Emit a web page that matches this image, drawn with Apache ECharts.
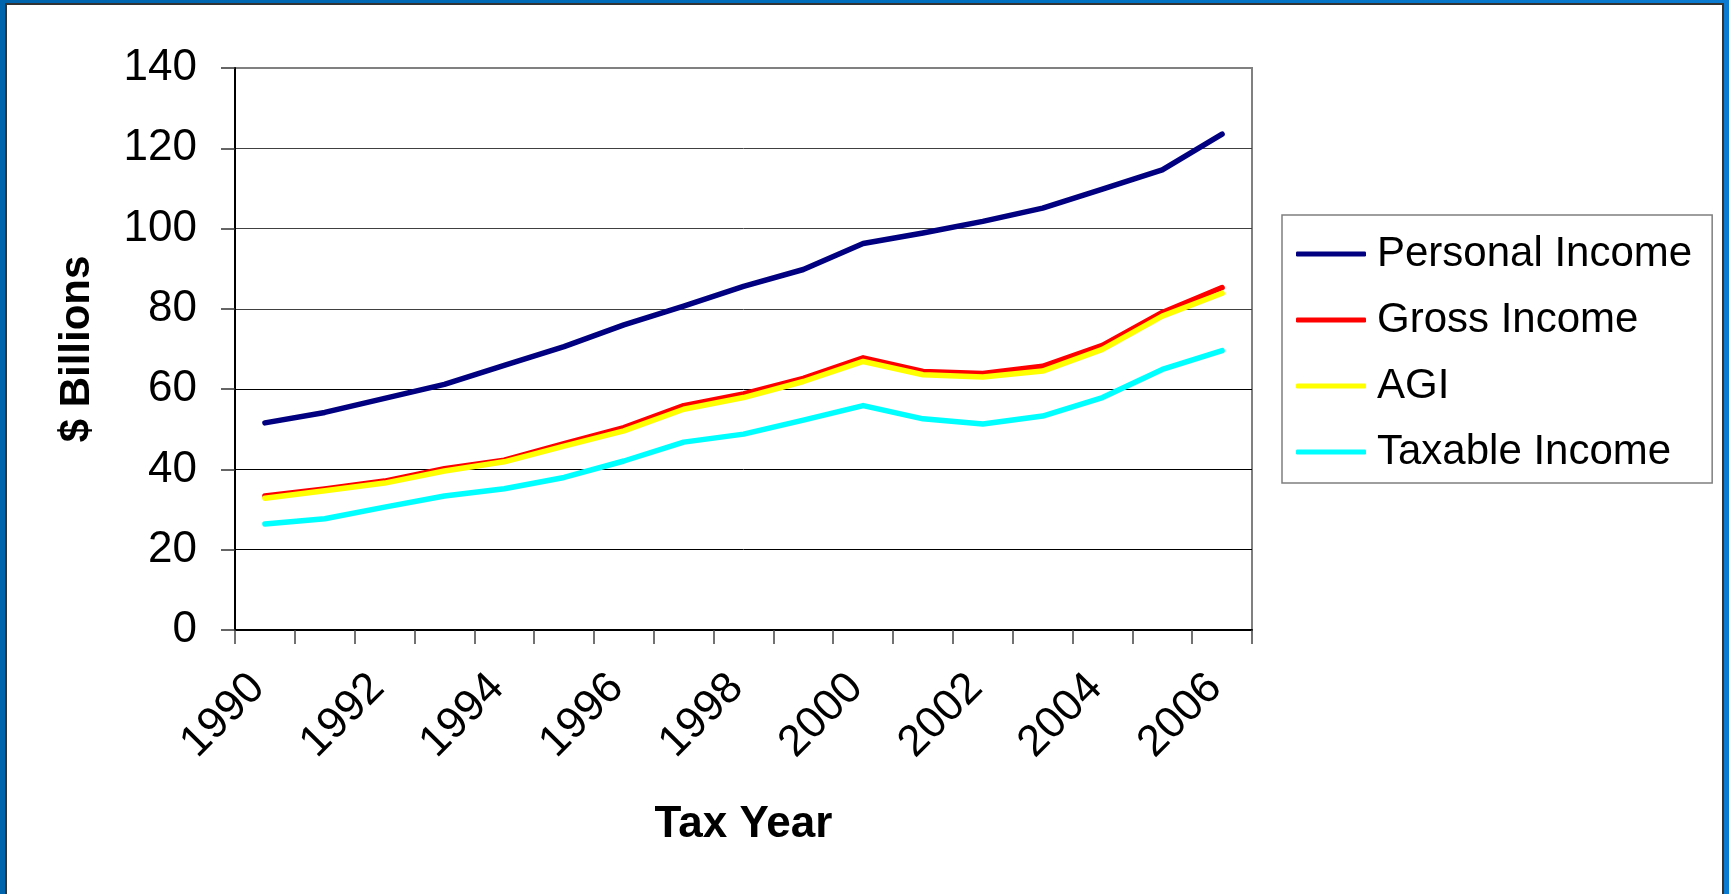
<!DOCTYPE html>
<html>
<head>
<meta charset="utf-8">
<script src="https://cdn.jsdelivr.net/npm/echarts@6/dist/echarts.min.js"></script>
<style>
  html, body { margin: 0; padding: 0; width: 1729px; height: 894px; overflow: hidden; }
  body { background: linear-gradient(90deg, #0064ad 0%, #0070c0 60%, #0a7bd0 100%); position: relative; }
  #frame { position: absolute; left: 5px; top: 3px; width: 1715px; height: 900px;
           background: #ffffff; border: 2px solid #333333; box-sizing: content-box; }
  #chart { position: absolute; left: 0; top: 0; width: 1729px; height: 894px; }
</style>
</head>
<body>
<div id="frame"></div>
<div id="chart"></div>
<script>
// Tax years on the category axis
const years = ['1990', '1991', '1992', '1993', '1994', '1995', '1996', '1997', '1998',
               '1999', '2000', '2001', '2002', '2003', '2004', '2005', '2006'];

// Income measures, $ billions
const personalIncome = [51.6, 54.2, 57.7, 61.2, 65.9, 70.6, 76.0, 80.7, 85.6,
                        89.8, 96.3, 98.9, 101.8, 105.1, 109.8, 114.6, 123.5];
const grossIncome    = [33.4, 35.1, 37.1, 40.2, 42.3, 46.4, 50.4, 55.9, 58.8,
                        62.7, 67.8, 64.4, 63.9, 65.7, 70.9, 79.1, 85.3];
const agi            = [32.8, 34.7, 36.6, 39.6, 41.9, 45.8, 49.6, 55.0, 57.9,
                        61.9, 66.9, 63.6, 63.0, 64.5, 69.9, 78.2, 83.9];
const taxableIncome  = [26.4, 27.7, 30.6, 33.4, 35.2, 38.0, 42.1, 46.8, 48.8,
                        52.3, 55.9, 52.6, 51.3, 53.3, 57.9, 64.9, 69.6];

const seriesNames = ['Personal Income', 'Gross Income', 'AGI', 'Taxable Income'];
const seriesColors = ['#000080', '#ff0000', '#ffff00', '#00ffff'];
const seriesData = [personalIncome, grossIncome, agi, taxableIncome];

const FONT = "'Liberation Sans', Arial, Helvetica, sans-serif";

const chart = echarts.init(document.getElementById('chart'), null, { renderer: 'canvas' });

chart.setOption({
  animation: false,
  textStyle: { fontFamily: FONT, color: '#000' },
  grid: {
    left: 235, top: 68, width: 1017, height: 562,
    show: true, borderColor: '#808080', borderWidth: 2, backgroundColor: 'transparent'
  },
  legend: {
    orient: 'vertical',
    left: 1282, top: 215,
    padding: [18, 20, 10, 14],
    itemGap: 24,
    itemWidth: 70, itemHeight: 5,
    icon: 'roundRect',
    borderColor: '#7f7f7f', borderWidth: 1.5,
    backgroundColor: '#ffffff',
    textStyle: { fontFamily: FONT, fontSize: 42, lineHeight: 42, color: '#000', padding: [0, 0, 0, 6] },
    data: seriesNames
  },
  xAxis: {
    type: 'category',
    data: years,
    boundaryGap: true,
    name: 'Tax Year',
    nameLocation: 'middle',
    nameGap: 173,
    nameTextStyle: { fontFamily: FONT, fontSize: 44, fontWeight: 'bold', color: '#000' },
    axisLine: { lineStyle: { color: '#000', width: 2 } },
    axisTick: { show: true, interval: 0, length: 14, lineStyle: { color: '#444', width: 1.5 } },
    axisLabel: {
      interval: 1, rotate: 45, margin: 44, fontSize: 44, color: '#000',
      fontFamily: FONT, padding: [0, 10, 0, 0]
    },
    splitLine: { show: false }
  },
  yAxis: {
    type: 'value',
    min: 0, max: 140, interval: 20,
    name: '$ Billions',
    nameLocation: 'middle',
    nameGap: 137,
    nameRotate: 90,
    nameTextStyle: { fontFamily: FONT, fontSize: 42, fontWeight: 'bold', color: '#000' },
    axisLine: { show: true, lineStyle: { color: '#000', width: 2 } },
    axisTick: { show: true, length: 14, lineStyle: { color: '#333', width: 1.5 } },
    axisLabel: { margin: 38, fontSize: 44, color: '#000', fontFamily: FONT },
    splitLine: {
      show: true,
      lineStyle: {
        width: 1,
        color: ['#000', '#000', '#000', '#000', '#404040', '#404040', '#404040', '#808080']
      }
    }
  },
  series: seriesNames.map((name, i) => ({
    name: name,
    type: 'line',
    data: seriesData[i],
    showSymbol: false,
    symbol: 'none',
    color: seriesColors[i],
    lineStyle: { color: seriesColors[i], width: 5.5, cap: 'round', join: 'round' },
    emphasis: { disabled: true }
  }))
});
</script>
</body>
</html>
